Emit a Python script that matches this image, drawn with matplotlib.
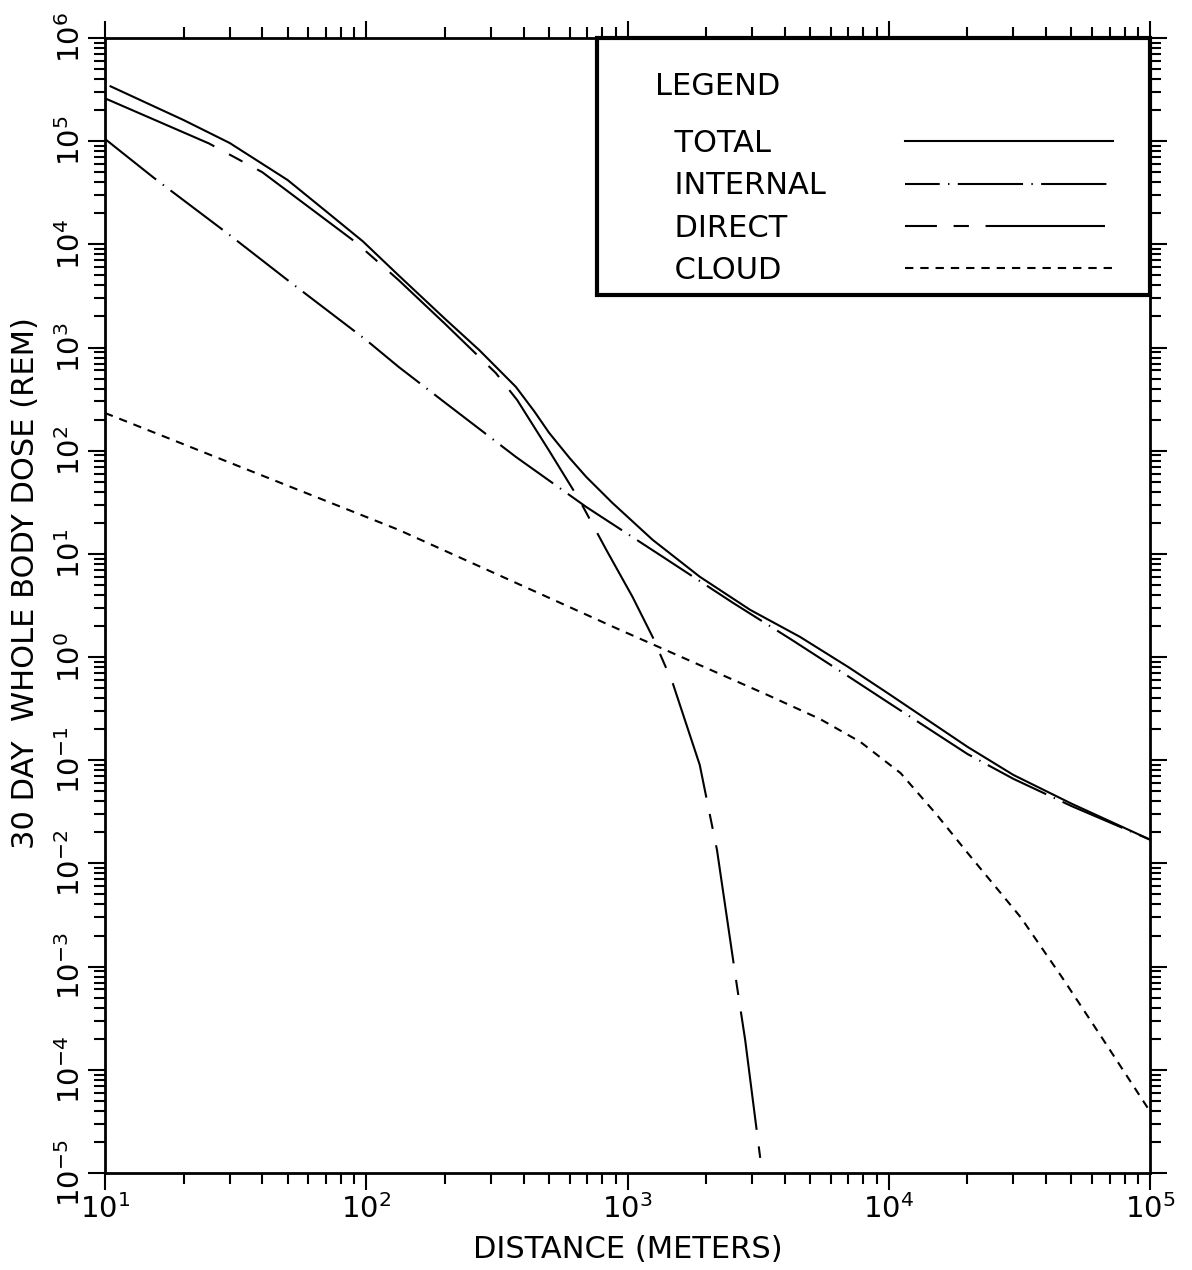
import math
import matplotlib
matplotlib.use("Agg")
import matplotlib.pyplot as plt
from matplotlib.lines import Line2D
from matplotlib.patches import Rectangle
from matplotlib.ticker import LogLocator, NullFormatter, FuncFormatter, FixedLocator

# ---------------- data ----------------
x_total = [10.5, 20, 30, 50, 70, 97, 133, 200, 270, 374, 440, 501, 600, 695, 875,
           1247, 1891, 2946, 4571, 7000, 10000, 20000, 30000, 50000, 100000]
y_total = [3.4e5, 1.6e5, 9.6e4, 4.2e4, 2.1e4, 1.07e4, 5.0e3, 1.9e3, 950, 415, 240,
           149, 85, 55.7, 31.2, 13.7, 6.0, 2.87, 1.57, 0.8, 0.44, 0.135, 0.072,
           0.038, 0.017]

x_internal = [10, 15.4, 30, 50, 100, 133, 201, 374, 695, 1327, 2535, 4198, 7000,
              10000, 20000, 30000, 50000, 100000]
y_internal = [1.05e5, 4.4e4, 1.23e4, 4.5e3, 1.18e3, 649, 290, 87, 28.5, 9.8, 3.35,
              1.5, 0.65, 0.36, 0.115, 0.066, 0.036, 0.017]

x_direct = [10, 25, 40, 91, 133, 200, 313, 378, 501, 654, 830, 1045, 1247, 1489,
            1890, 2200, 2625, 2820, 3220]
y_direct = [2.6e5, 9.5e4, 5.0e4, 1.05e4, 4.5e3, 1.7e3, 567, 310, 100, 33.4, 10.9,
            3.83, 1.57, 0.56, 0.09, 0.0135, 6.4e-4, 1.95e-4, 1.4e-5]

x_cloud = [10, 133, 933, 3428, 5470, 7800, 11100, 15200, 20100, 32000, 46000,
           65000, 99000]
y_cloud = [232, 17.1, 1.84, 0.43, 0.25, 0.15, 0.075, 0.03, 0.0125, 3.0e-3,
           7.9e-4, 2.1e-4, 4.1e-5]

x_decades = [1, 2, 3, 4, 5]
y_decades = [-5, -4, -3, -2, -1, 0, 1, 2, 3, 4, 5, 6]

labels = ["TOTAL", "INTERNAL", "DIRECT", "CLOUD"]
x_label = "DISTANCE (METERS)"
y_label = "30 DAY  WHOLE BODY DOSE (REM)"
legend_title = "LEGEND"

# ---------------- styling ----------------
plt.rcParams["font.family"] = ["DejaVu Sans"]
plt.rcParams["mathtext.fontset"] = "dejavusans"
plt.rcParams["axes.unicode_minus"] = False
plt.rcParams["lines.scale_dashes"] = False

fig = plt.figure(figsize=(11.92, 12.70), dpi=100)
ax = fig.add_axes([0.0881, 0.0764, 0.8767, 0.8937])

lw = 1.5
dash_int = (47, 6, 1, 6)
dash_dir = (86, 12, 11, 12)
dash_cld = (6, 5)

l1, = ax.plot(x_total, y_total, color="black", lw=lw, linestyle="-")
l2, = ax.plot(x_internal, y_internal, color="black", lw=lw, linestyle=(0, dash_int))
l3, = ax.plot(x_direct, y_direct, color="black", lw=lw, linestyle=(0, dash_dir))
l4, = ax.plot(x_cloud, y_cloud, color="black", lw=lw, linestyle=(0, dash_cld))

ax.set_xscale("log")
ax.set_yscale("log")
ax.set_xlim(10, 1e5)
ax.set_ylim(1e-5, 1e6)

for sp in ax.spines.values():
    sp.set_linewidth(2.0)

ax.xaxis.set_major_locator(FixedLocator([10.0 ** e for e in x_decades]))
ax.xaxis.set_minor_locator(LogLocator(base=10, subs=range(2, 10), numticks=50))
ax.yaxis.set_major_locator(FixedLocator([10.0 ** e for e in y_decades]))
ax.yaxis.set_minor_locator(LogLocator(base=10, subs=range(2, 10), numticks=100))
ax.xaxis.set_minor_formatter(NullFormatter())
ax.yaxis.set_minor_formatter(NullFormatter())


def pow_fmt(v, pos):
    e = int(round(math.log10(v)))
    return r"$\mathdefault{10^{%d}}$" % e


ax.xaxis.set_major_formatter(FuncFormatter(pow_fmt))
ax.yaxis.set_major_formatter(FuncFormatter(pow_fmt))

ax.tick_params(which="both", direction="out", top=True, right=True,
               bottom=True, left=True, width=1.5, color="black")
ax.tick_params(which="major", length=12)
ax.tick_params(which="minor", length=8)
ax.tick_params(axis="x", which="major", labelsize=21, pad=3)
ax.tick_params(axis="y", which="major", labelsize=21, pad=2, labelrotation=90)
for t in ax.get_yticklabels():
    t.set_va("center")

ax.set_xlabel(x_label, fontsize=22, labelpad=8)
ax.set_ylabel(y_label, fontsize=22)
ax.yaxis.set_label_coords(-0.062, 0.52)

# legend box (frame drawn as an axes-fraction rectangle)
frame = Rectangle((0.4708, 0.7736), 0.5292, 0.2264, transform=ax.transAxes,
                  facecolor="white", edgecolor="black", lw=3.0, zorder=4,
                  clip_on=False)
ax.add_patch(frame)

# legend keys: same styles, dash pattern phase as in the reference's key
h1 = Line2D([], [], color="black", lw=lw, linestyle="-")
h2 = Line2D([], [], color="black", lw=lw, linestyle=(22, dash_int))
h3 = Line2D([], [], color="black", lw=lw, linestyle=(63, dash_dir))
h4 = Line2D([], [], color="black", lw=lw, linestyle=(0, dash_cld))

leg = ax.legend([h1, h2, h3, h4], ["  " + s for s in labels],
                loc="upper left", bbox_to_anchor=(0.5263, 0.970), borderaxespad=0,
                borderpad=0, frameon=False, title=legend_title, alignment="left",
                markerfirst=False, fontsize=22, title_fontsize=22,
                handlelength=6.8, handletextpad=2.6, labelspacing=0.44)
leg.set_zorder(5)
leg._legend_box.sep = 20

# left-align the legend labels while keeping the line samples aligned
fig.canvas.draw()
r = fig.canvas.get_renderer()
col = leg._legend_handle_box.get_children()[0]
col.align = "left"
widths = [t.get_window_extent(r).width for t in leg.get_texts()]
maxw = max(widths)
for row, w in zip(col.get_children(), widths):
    row.sep += (maxw - w) * 72.0 / fig.dpi

fig.savefig("out.png", dpi=100)
